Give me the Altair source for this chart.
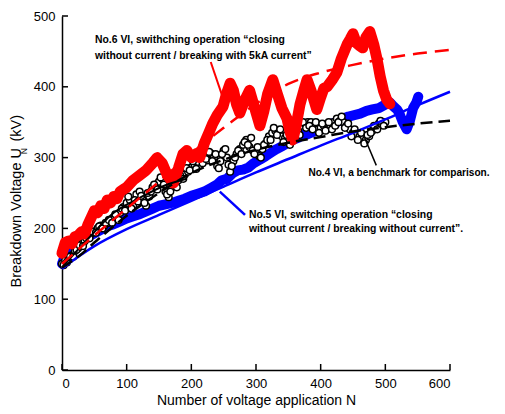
import altair as alt
import pandas as pd

# ---- data ----
red_n = [0, 5, 10, 15, 20, 25, 30, 35, 40, 45, 50, 55, 60, 65, 70, 75, 80, 85, 90, 95,
         100, 110, 120, 130, 140, 147, 155, 163, 172, 180, 187, 193, 200, 207, 213, 220,
         227, 233, 240, 249, 255, 260, 265, 270, 275, 282, 290, 298, 306, 312, 318, 326,
         333, 340, 348, 353, 357, 362, 368, 374, 379, 385, 390, 394, 400, 405, 410, 418,
         425, 432, 441, 446, 450, 455, 460, 465, 470, 476, 482, 487, 492, 497, 502, 507]
red_u = [165, 180, 182, 178, 188, 190, 195, 192, 205, 215, 225, 222, 232, 228, 240, 236,
         245, 242, 252, 255, 258, 268, 275, 282, 292, 300, 292, 275, 264, 285, 305, 310,
         300, 305, 300, 320, 335, 348, 360, 372, 392, 405, 395, 375, 363, 380, 395, 370,
         345, 365, 390, 410, 390, 370, 355, 335, 325, 345, 375, 395, 410, 395, 380, 368,
         385, 398, 400, 410, 420, 440, 460, 468, 475, 462, 458, 455, 470, 478, 460, 440,
         415, 395, 382, 376]

blue_n = [0, 5, 10, 20, 30, 40, 50, 60, 70, 80, 90, 100, 110, 120, 130, 140, 150, 160,
          170, 180, 190, 200, 210, 220, 230, 240, 247, 255, 264, 272, 280, 288, 296, 306,
          315, 325, 332, 340, 348, 357, 365, 373, 380, 390, 399, 408, 417, 425, 434, 443,
          452, 461, 471, 480, 490, 500, 507, 513, 518, 522, 527, 533, 538, 543, 548, 551]
blue_u = [150, 162, 168, 175, 182, 188, 193, 198, 203, 206, 210, 214, 217, 220, 224, 228,
          232, 234, 236, 239, 242, 246, 249, 252, 257, 262, 268, 270, 278, 282, 283, 286,
          292, 297, 302, 308, 312, 316, 320, 325, 328, 332, 333, 337, 340, 344, 348, 350,
          355, 358, 360, 362, 366, 368, 370, 375, 378, 372, 368, 362, 350, 340, 352, 370,
          378, 386]

black_n = [i * 5 for i in range(101)]
black_u = [150, 155, 158, 162, 168, 172, 178, 182, 188, 192, 196, 200, 204, 203, 207,
           210, 214, 216, 222, 230, 236, 240, 232, 248, 252, 240, 232, 245, 258, 262,
           266, 270, 252, 244, 258, 262, 268, 272, 276, 280, 286, 290, 294, 300, 304,
           296, 306, 300, 288, 295, 310, 300, 280, 295, 305, 312, 318, 325, 315, 310,
           306, 302, 312, 320, 330, 335, 338, 336, 330, 328, 325, 330, 340, 338, 345,
           348, 350, 350, 345, 340, 342, 345, 340, 345, 350, 355, 352, 350, 345, 340,
           335, 332, 330, 326, 325, 330, 338, 343, 348, 346, 350]
black_n2 = [i * 5 + 2.5 for i in range(100)]
black_u2 = [148, 152, 160, 160, 170, 176, 175, 186, 186, 195, 194, 203, 200, 208, 212,
            208, 220, 212, 228, 225, 245, 228, 240, 238, 246, 236, 250, 252, 262, 255,
            272, 262, 248, 252, 265, 258, 275, 270, 285, 282, 295, 284, 303, 292, 298,
            308, 295, 305, 285, 305, 312, 290, 288, 300, 310, 305, 322, 318, 328, 305,
            315, 300, 318, 325, 325, 342, 332, 340, 322, 332, 318, 335, 345, 332, 350,
            342, 345, 340, 350, 335, 348, 338, 350, 340, 345, 350, 358, 342, 348, 330,
            340, 325, 335, 320, 332, 335, 345, 340, 352, 345]

fit_n = [0, 25, 50, 100, 150, 200, 250, 300, 350, 400, 450, 500, 550, 600]
red_fit = [150, 170, 190, 228, 266, 306, 342, 376, 404, 420, 431, 440, 447, 452]
blue_fit = [143, 160, 175, 199, 219, 239, 259, 279, 298, 317, 335, 354, 374, 393]
black_fit = [145, 160, 180, 218, 250, 278, 297, 311, 321, 329, 337, 343, 348, 352]
black_short_n = [0, 40, 80, 120, 160, 193]
black_short_u = [145, 185, 222, 243, 261, 270]

x_ticks = [0, 100, 200, 300, 400, 500, 600]
y_ticks = [0, 100, 200, 300, 400, 500]

ann_font = "Liberation Sans, Arial, Helvetica, sans-serif"
base_font = "Liberation Sans, Arial, Helvetica, sans-serif"

xs = alt.Scale(domain=[0, 600], nice=False, zero=False)
ys = alt.Scale(domain=[0, 500], nice=False, zero=False)

xax = alt.Axis(values=x_ticks, title="Number of voltage application N", grid=False,
               ticks=False, domainColor="black", domainWidth=1.5, labelFontSize=13,
               labelColor="black", labelFont=base_font, labelPadding=7,
               titleFontSize=14, titleFontWeight="normal", titleColor="black",
               titleFont=base_font, titlePadding=3)
yax = alt.Axis(values=y_ticks, title=None, grid=False, ticks=False,
               domainColor="black", domainWidth=1.5, labelFontSize=13,
               labelColor="black", labelFont=base_font, labelPadding=7)

red_df = pd.DataFrame({"N": red_n, "U": red_u})
blue_df = pd.DataFrame({"N": blue_n, "U": blue_u})
black_df = pd.DataFrame({"N": black_n + black_n2, "U": black_u + black_u2})
fit_df = pd.DataFrame({"N": fit_n, "red": red_fit, "blue": blue_fit, "black": black_fit})
short_df = pd.DataFrame({"N": black_short_n, "U": black_short_u})

X = alt.X("N:Q", scale=xs, axis=xax)
Y = alt.Y("U:Q", scale=ys, axis=yax)

blue_line = alt.Chart(blue_df).mark_line(color="#0000ff", strokeWidth=10, strokeJoin="round",
                                          strokeCap="round").encode(x=X, y=Y)
black_pts = alt.Chart(black_df).mark_point(shape="circle", size=45, filled=True, fill="white",
                                           stroke="black", strokeWidth=1.5, opacity=1).encode(x=X, y=Y)
red_line = alt.Chart(red_df).mark_line(color="#ff0000", strokeWidth=11, strokeJoin="round",
                                        strokeCap="round").encode(x=X, y=Y)

red_fit_l = alt.Chart(fit_df).mark_line(color="#ff0000", strokeWidth=2.5, strokeDash=[14, 8],
                                        interpolate="monotone").encode(x=X, y=alt.Y("red:Q", scale=ys, axis=yax))
blue_fit_l = alt.Chart(fit_df).mark_line(color="#0000ff", strokeWidth=2.5,
                                         interpolate="monotone").encode(x=X, y=alt.Y("blue:Q", scale=ys, axis=yax))
black_fit_l = alt.Chart(fit_df).mark_line(color="black", strokeWidth=2.5, strokeDash=[12, 6],
                                          interpolate="monotone").encode(x=X, y=alt.Y("black:Q", scale=ys, axis=yax))
black_short_l = alt.Chart(short_df).mark_line(color="black", strokeWidth=2,
                                              interpolate="monotone").encode(x=X, y=Y)

# leader lines (data coordinates)
lead_df = pd.DataFrame({
    "N": [230, 468, 244], "U": [435, 328, 252],
    "N2": [249, 486, 283], "U2": [384, 289, 219],
    "c": ["#ff0000", "black", "#0000ff"], "w": [2, 1.5, 2.5]})
leaders = alt.Chart(lead_df).mark_rule().encode(
    x=X, y=Y, x2="N2:Q", y2="U2:Q",
    color=alt.Color("c:N", scale=None), strokeWidth=alt.StrokeWidth("w:Q", scale=None))

ann_df = pd.DataFrame({
    "N": [51, 51, 381, 289, 289],
    "U": [462, 439, 274.5, 215, 195],
    "t": ["No.6 VI, swithching operation \u201cclosing",
          "without current / breaking with 5kA current\u201d",
          "No.4 VI, a benchmark for comparison.",
          "No.5 VI, switching operation \u201cclosing",
          "without current / breaking without current\u201d."],
    "fs": [10.4, 10.4, 10.1, 10.4, 10.4]})
ann = alt.Chart(ann_df).mark_text(align="left", baseline="alphabetic",
                                  fontWeight="bold", font=ann_font, color="black").encode(
    x=X, y=Y, text="t:N", size=alt.Size("fs:Q", scale=None))

xt_df = pd.DataFrame({"N": x_ticks})
xticks = alt.Chart(xt_df).mark_rule(color="black", strokeWidth=1.5).encode(
    x=X, y=alt.value(354), y2=alt.value(348))
yt_df = pd.DataFrame({"U": y_ticks})
yticks = alt.Chart(yt_df).mark_rule(color="black", strokeWidth=1.5).encode(
    y=Y, x=alt.value(0), x2=alt.value(6))

t_df = pd.DataFrame({"a": ["Breakdown Voltage U"], "b": ["N"], "c": ["(kV)"]})
yt1 = alt.Chart(t_df).mark_text(angle=270, align="right", baseline="middle", fontSize=14.5,
                                font=base_font, color="black").encode(
    x=alt.value(-45), y=alt.value(132), text="a:N")
yt2 = alt.Chart(t_df).mark_text(angle=270, align="right", baseline="middle", fontSize=8.5,
                                font=base_font, color="black").encode(
    x=alt.value(-38.5), y=alt.value(132), text="b:N")
yt3 = alt.Chart(t_df).mark_text(angle=270, align="left", baseline="middle", fontSize=14.5,
                                font=base_font, color="black").encode(
    x=alt.value(-45), y=alt.value(125.5), text="c:N")

chart = alt.layer(blue_line, black_pts, red_line, blue_fit_l, black_fit_l, black_short_l,
                  red_fit_l, leaders, ann, xticks, yticks, yt1, yt2, yt3).properties(
    width=388, height=354,
    autosize=alt.AutoSizeParams(type="none"),
    padding={"left": 54, "top": 8, "right": 47, "bottom": 42},
).configure_view(stroke=None)

chart.save("out.html", embed_options={"renderer": "svg", "actions": False})
